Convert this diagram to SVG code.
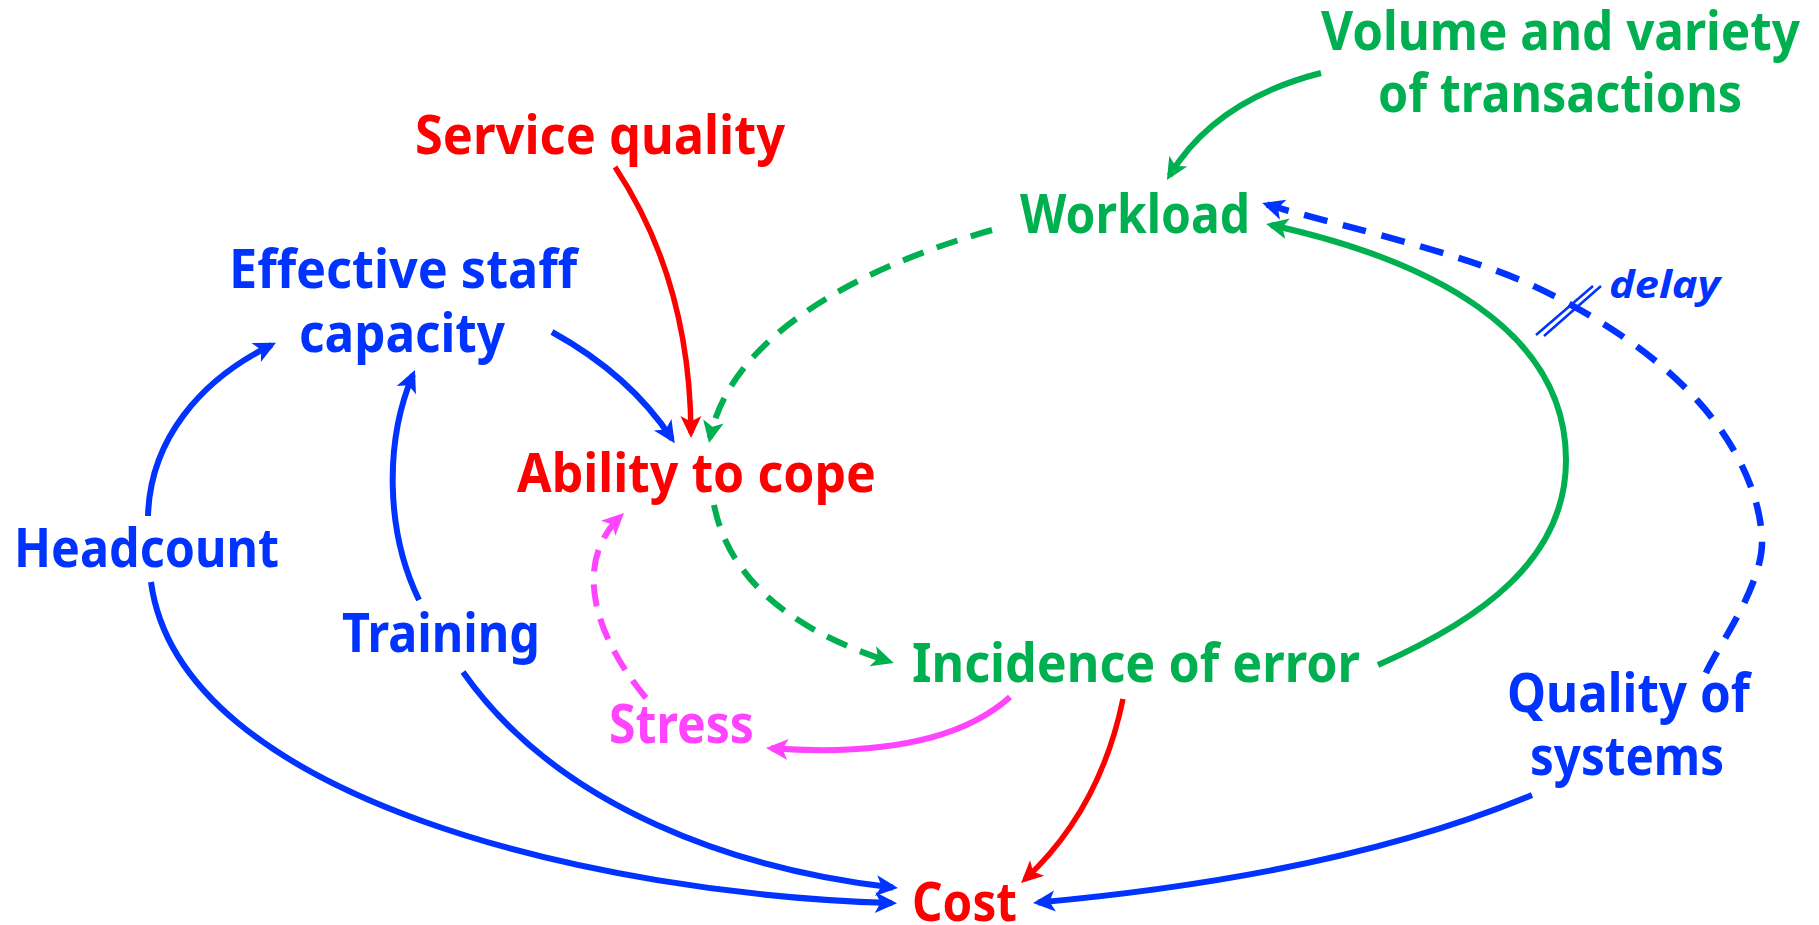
<svg xmlns="http://www.w3.org/2000/svg" width="1819" height="925" viewBox="0 0 1819 925">
  <style>
    .lbl { font-family: "Noto Sans", "Open Sans", "DejaVu Sans", sans-serif; font-weight: bold; font-size: 53px; }
    .blue { fill: #0033FF; }
    .green { fill: #00B050; }
    .red { fill: #FF0000; }
    .pink { fill: #FF44FF; }
    .ln { fill: none; stroke-width: 6; stroke-linecap: butt; }
    .lb { stroke: #0033FF; }
    .lg { stroke: #00B050; }
    .lr { stroke: #FF0000; stroke-width: 5.5; }
    .lp { stroke: #FF44FF; }
    .dash-b { stroke-dasharray: 24 16; stroke-width: 6.5; }
    .dash-g { stroke-dasharray: 22 14; }
    .dash-p { stroke-dasharray: 22 13; }
  </style>
  <defs>
    <marker id="ah-b" viewBox="-23 -12 24 24" refX="-5" refY="0" markerWidth="24" markerHeight="24" orient="auto" markerUnits="userSpaceOnUse">
      <path d="M0,0 L-22,-10.5 L-16.5,0 L-22,10.5 Z" fill="#0033FF"/>
    </marker>
    <marker id="ah-g" viewBox="-23 -12 24 24" refX="-5" refY="0" markerWidth="24" markerHeight="24" orient="auto" markerUnits="userSpaceOnUse">
      <path d="M0,0 L-22,-10.5 L-16.5,0 L-22,10.5 Z" fill="#00B050"/>
    </marker>
    <marker id="ah-r" viewBox="-23 -12 24 24" refX="-5" refY="0" markerWidth="24" markerHeight="24" orient="auto" markerUnits="userSpaceOnUse">
      <path d="M0,0 L-22,-10.5 L-16.5,0 L-22,10.5 Z" fill="#FF0000"/>
    </marker>
    <marker id="ah-p" viewBox="-23 -12 24 24" refX="-5" refY="0" markerWidth="24" markerHeight="24" orient="auto" markerUnits="userSpaceOnUse">
      <path d="M0,0 L-22,-10.5 L-16.5,0 L-22,10.5 Z" fill="#FF44FF"/>
    </marker>
  </defs>

  <rect width="1819" height="925" fill="#FFFFFF"/>

  <!-- causal links -->
  <g id="connectors">
    <!-- volume and variety -> workload -->
    <path class="ln lg" d="M1321,73 Q1215,100 1169.5,175.7" marker-end="url(#ah-g)"/>
    <!-- workload -> ability to cope -->
    <path class="ln lg dash-g" d="M992,230 C850,270 730,340 710,438" marker-end="url(#ah-g)"/>
    <!-- service quality -> ability to cope -->
    <path class="ln lr" d="M615,167 Q690,280 691,433" marker-end="url(#ah-r)"/>
    <!-- effective staff capacity -> ability to cope -->
    <path class="ln lb" d="M552,332 Q630,375 672,439" marker-end="url(#ah-b)"/>
    <!-- headcount -> effective staff capacity -->
    <path class="ln lb" d="M148,516 C150,440 200,380 271.5,345" marker-end="url(#ah-b)"/>
    <!-- training -> effective staff capacity -->
    <path class="ln lb" d="M419,600 C385,530 385,440 413,374.6" marker-end="url(#ah-b)"/>
    <!-- headcount -> cost -->
    <path class="ln lb" d="M151,582 C180,800 600,895 892,903" marker-end="url(#ah-b)"/>
    <!-- training -> cost -->
    <path class="ln lb" d="M463,672 C560,810 740,870 893,887.5" marker-end="url(#ah-b)"/>
    <!-- ability to cope -> incidence of error -->
    <path class="ln lg dash-g" d="M714,505 C728,575 785,628 889,661.5" marker-end="url(#ah-g)"/>
    <!-- incidence of error -> workload -->
    <path class="ln lg" d="M1378,665 C1480,620 1566,560 1566,460 C1566,330 1430,260 1271,225" marker-end="url(#ah-g)"/>
    <!-- quality of systems -> workload (delayed) -->
    <path class="ln lb dash-b" d="M1706,673 C1715,651 1763.5,585.5 1762,540 C1760.5,494.5 1736,443 1697,400 C1658,357 1599,315.5 1527,283 C1455,250.5 1309,218 1267,204.5" marker-end="url(#ah-b)"/>
    <!-- delay mark -->
    <path fill="none" stroke="#0033FF" stroke-width="2.5" d="M1536,335 L1593,286 M1544,336 L1601,286"/>
    <!-- incidence of error -> stress -->
    <path class="ln lp" d="M1010,697 Q940,760 771,748.3" marker-end="url(#ah-p)"/>
    <!-- stress -> ability to cope -->
    <path class="ln lp dash-p" d="M646,698 C590,630 575,560 620.4,516.5" marker-end="url(#ah-p)"/>
    <!-- incidence of error -> cost -->
    <path class="ln lr" d="M1123,699 Q1100,810 1024.7,879.6" marker-end="url(#ah-r)"/>
    <!-- quality of systems -> cost -->
    <path class="ln lb" d="M1532,795 Q1340,875 1038,902.5" marker-end="url(#ah-b)"/>
  </g>

  <!-- variables -->
  <g id="volume-variety">
    <text class="lbl green" x="1321" y="50" textLength="479" lengthAdjust="spacingAndGlyphs">Volume and variety</text>
    <text class="lbl green" x="1378" y="112" textLength="364" lengthAdjust="spacingAndGlyphs">of transactions</text>
  </g>
  <g id="workload">
    <text class="lbl green" x="1020" y="233" textLength="230" lengthAdjust="spacingAndGlyphs">Workload</text>
  </g>
  <g id="service-quality">
    <text class="lbl red" x="415" y="154" textLength="370" lengthAdjust="spacingAndGlyphs">Service quality</text>
  </g>
  <g id="effective-staff-capacity">
    <text class="lbl blue" x="229" y="288" textLength="348" lengthAdjust="spacingAndGlyphs">Effective staff</text>
    <text class="lbl blue" x="299" y="352" textLength="206" lengthAdjust="spacingAndGlyphs">capacity</text>
  </g>
  <g id="ability-to-cope">
    <text class="lbl red" x="517" y="492" textLength="359" lengthAdjust="spacingAndGlyphs">Ability to cope</text>
  </g>
  <g id="headcount">
    <text class="lbl blue" x="14" y="567" textLength="265" lengthAdjust="spacingAndGlyphs">Headcount</text>
  </g>
  <g id="training">
    <text class="lbl blue" x="342" y="652" textLength="198" lengthAdjust="spacingAndGlyphs">Training</text>
  </g>
  <g id="stress">
    <text class="lbl pink" x="609" y="743" textLength="145" lengthAdjust="spacingAndGlyphs">Stress</text>
  </g>
  <g id="incidence-of-error">
    <text class="lbl green" x="912" y="682" textLength="448" lengthAdjust="spacingAndGlyphs">Incidence of error</text>
  </g>
  <g id="quality-of-systems">
    <text class="lbl blue" x="1507" y="712" textLength="243" lengthAdjust="spacingAndGlyphs">Quality of</text>
    <text class="lbl blue" x="1530" y="775" textLength="194" lengthAdjust="spacingAndGlyphs">systems</text>
  </g>
  <g id="cost">
    <text class="lbl red" x="912" y="921" textLength="105" lengthAdjust="spacingAndGlyphs">Cost</text>
  </g>
  <g id="delay-label">
    <text class="blue" x="1609" y="298" font-family="Noto Sans, Open Sans, DejaVu Sans, sans-serif" font-weight="bold" font-style="italic" font-size="38" textLength="111" lengthAdjust="spacingAndGlyphs">delay</text>
  </g>
</svg>
